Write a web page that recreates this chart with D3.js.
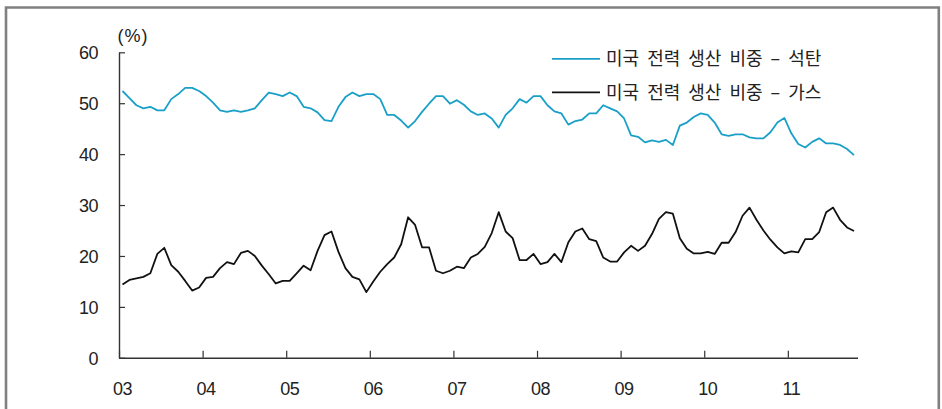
<!DOCTYPE html>
<html>
<head>
<meta charset="utf-8">
<script src="https://cdn.jsdelivr.net/npm/d3@7"></script>
<style>
    body { margin: 0; background: #fff; }
    svg { display: block; }
    .tick text, .yUnit { font-family: "Liberation Sans", Arial, sans-serif; font-size: 18px; fill: #222; letter-spacing: -0.5px; }
    .legendText { font-family: "Noto Sans CJK KR", sans-serif; font-size: 18px; fill: #222; word-spacing: 4px; }
</style>
</head>
<body>
<div id="chart"></div>
<script>
// monthly share of US power generation, Jan 2003 - Oct 2011 (%)
const yearLabels = ["03", "04", "05", "06", "07", "08", "09", "10", "11"];

const coal = [
    52.4, 51.0, 49.6, 49.0, 49.3, 48.6, 48.6, 50.8, 51.8, 53.0, 53.0, 52.4,
    51.4, 50.1, 48.6, 48.3, 48.6, 48.3, 48.6, 49.0, 50.6, 52.1, 51.8, 51.4,
    52.1, 51.4, 49.3, 49.0, 48.2, 46.7, 46.5, 49.3, 51.2, 52.1, 51.4, 51.8,
    51.8, 50.8, 47.7, 47.7, 46.6, 45.2, 46.5, 48.3, 49.9, 51.4, 51.4, 49.9,
    50.6, 49.7, 48.4, 47.7, 48.0, 47.0, 45.2, 47.7, 49.0, 50.8, 50.1, 51.4,
    51.4, 49.6, 48.4, 48.0, 45.8, 46.5, 46.8, 48.0, 48.0, 49.6, 49.0, 48.4,
    47.0, 43.7, 43.4, 42.3, 42.7, 42.4, 42.8, 41.8, 45.6, 46.2, 47.3, 48.0,
    47.7, 46.2, 43.9, 43.6, 43.9, 43.9, 43.3, 43.1, 43.1, 44.3, 46.2, 47.1,
    44.1, 42.0, 41.3, 42.4, 43.1, 42.1, 42.1, 41.8, 41.0, 39.8
];

const gas = [
    14.4, 15.3, 15.6, 15.9, 16.6, 20.4, 21.6, 18.2, 16.9, 15.1, 13.2, 13.8,
    15.7, 15.9, 17.6, 18.8, 18.4, 20.6, 21.0, 20.0, 18.1, 16.4, 14.6, 15.1,
    15.1, 16.6, 18.1, 17.2, 21.0, 24.1, 24.8, 20.8, 17.6, 15.9, 15.4, 12.9,
    15.0, 16.9, 18.4, 19.7, 22.3, 27.6, 26.1, 21.7, 21.7, 17.1, 16.6, 17.1,
    17.9, 17.6, 19.7, 20.4, 21.8, 24.5, 28.6, 24.8, 23.5, 19.2, 19.2, 20.4,
    18.4, 18.8, 20.4, 18.8, 22.7, 24.8, 25.4, 23.3, 22.9, 19.7, 18.9, 18.9,
    20.7, 22.0, 21.0, 22.0, 24.3, 27.3, 28.6, 28.3, 23.5, 21.4, 20.5, 20.5,
    20.8, 20.4, 22.6, 22.6, 24.7, 27.9, 29.5, 27.1, 25.0, 23.2, 21.7, 20.5,
    20.9, 20.7, 23.3, 23.3, 24.7, 28.6, 29.5, 27.1, 25.6, 24.9
];

const yTicks = [0, 10, 20, 30, 40, 50, 60];
const seriesNames = ["미국 전력 생산 비중 – 석탄", "미국 전력 생산 비중 – 가스"];
const seriesColors = ["#1aa0c8", "#111111"];

const svgWidth = 942;
const svgHeight = 409;

const svg = d3.select("#chart")
    .append("svg")
    .attr("width", svgWidth)
    .attr("height", svgHeight);

// gray frame (bottom edge runs off the picture)
svg.append("path")
    .attr("d", `M6,${svgHeight + 5} V7.5 H938.8 V${svgHeight + 5}`)
    .attr("fill", "none")
    .attr("stroke", "#808080")
    .attr("stroke-width", 2.6);

// scales: x runs over month slots, points sit in the middle of each slot
const nMonths = 106;
const x = d3.scaleLinear().domain([0, nMonths]).range([119, 857.5]);
const y = d3.scaleLinear().domain([0, 60]).range([357.8, 52.3]);

// y axis, ticks pointing inward
const yAxis = svg.append("g")
    .attr("transform", "translate(119,0)")
    .call(d3.axisLeft(y).tickValues(yTicks).tickSize(-6).tickSizeOuter(0).tickPadding(21));

// x axis, year boundary ticks pointing up
const xAxis = svg.append("g")
    .attr("transform", `translate(0,${y(0)})`)
    .call(d3.axisBottom(x).tickValues(yearLabels.map((d, i) => i * 12)).tickSize(-7).tickSizeOuter(0).tickFormat(""));

[yAxis, xAxis].forEach(g => {
    g.select(".domain").attr("stroke", "#333").attr("stroke-width", 1.4);
    g.selectAll(".tick line").attr("stroke", "#333").attr("stroke-width", 1.2);
});
yAxis.selectAll(".tick text").attr("dy", "0.35em");

// year labels under the January point
svg.append("g")
    .selectAll("text")
    .data(yearLabels)
    .enter()
    .append("text")
    .attr("class", "yUnit")
    .attr("x", (d, i) => x(i * 12 + 0.5))
    .attr("y", 394.5)
    .attr("text-anchor", "middle")
    .text(d => d);

svg.append("text")
    .attr("class", "yUnit")
    .attr("x", 133)
    .attr("y", 42)
    .attr("text-anchor", "middle")
    .style("letter-spacing", "1px")
    .text("(%)");

// lines
const line = d3.line()
    .x((d, i) => x(i + 0.5))
    .y(d => y(d));

[coal, gas].forEach((series, k) => {
    svg.append("path")
        .datum(series)
        .attr("fill", "none")
        .attr("stroke", seriesColors[k])
        .attr("stroke-width", 1.8)
        .attr("stroke-linejoin", "round")
        .attr("d", line);
});

// legend
const legend = svg.append("g");
seriesNames.forEach((name, k) => {
    const ly = 58.8 + k * 33.5;
    legend.append("line")
        .attr("x1", 552)
        .attr("x2", 600)
        .attr("y1", ly)
        .attr("y2", ly)
        .attr("stroke", seriesColors[k])
        .attr("stroke-width", 1.8);
    legend.append("text")
        .attr("class", "legendText")
        .attr("x", 606)
        .attr("y", ly)
        .attr("dy", "0.35em")
        .text(name);
});
</script>
</body>
</html>
